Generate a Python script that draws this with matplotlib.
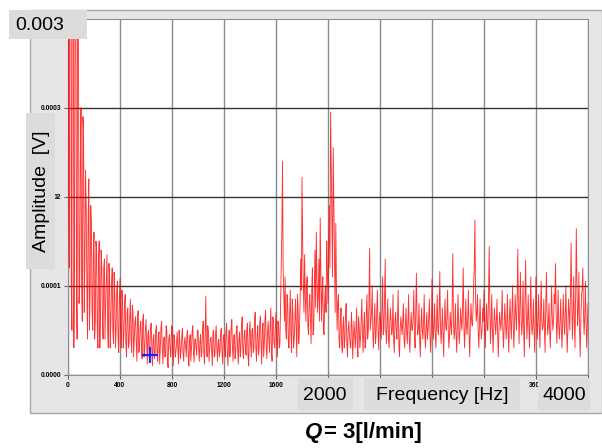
import numpy as np
import matplotlib
matplotlib.use("Agg")
import matplotlib.pyplot as plt
from matplotlib.patches import Rectangle

# ---- data (amplitude in units of 1e-4 V) ----
# samples at 0, 10, 20, ... 4000 Hz
amp_e4 = [
    9.5, 1.2, 8.0, 0.5, 6.0, 1.5, 4.8, 0.4, 4.2, 1.0, 3.0, 0.6, 2.7, 1.3, 1.9, 0.4, 2.2, 0.9, 1.7, 0.5,
    1.6, 0.6, 1.4, 0.3, 1.5, 0.7, 1.2, 0.4, 1.3, 0.8, 1.35, 0.3, 1.1, 0.6, 1.2, 0.35, 0.9, 0.5, 1.05, 0.25,
    1.08, 0.3, 0.8, 0.45, 0.9, 0.2, 0.75, 0.35, 0.85, 0.25, 0.7, 0.4, 0.65, 0.15, 0.72, 0.3, 0.6, 0.18, 0.68, 0.28,
    0.62, 0.12, 0.5, 0.3, 0.58, 0.1, 0.45, 0.25, 0.55, 0.15, 0.48, 0.3, 0.6, 0.12, 0.42, 0.22, 0.5, 0.08, 0.45, 0.2,
    0.55, 0.1, 0.4, 0.25, 0.48, 0.12, 0.38, 0.28, 0.52, 0.15, 0.42, 0.2, 0.5, 0.1, 0.45, 0.3, 0.55, 0.14, 0.4, 0.22,
    0.5, 0.15, 0.45, 0.25, 0.6, 0.12, 0.88, 0.2, 0.48, 0.3, 0.42, 0.1, 0.5, 0.22, 0.55, 0.15, 0.4, 0.28, 0.52, 0.12,
    0.45, 0.2, 0.58, 0.1, 0.5, 0.3, 0.62, 0.15, 0.45, 0.25, 0.55, 0.12, 0.48, 0.3, 0.65, 0.18, 0.5, 0.22, 0.58, 0.1,
    0.6, 0.2, 0.52, 0.3, 0.7, 0.15, 0.55, 0.28, 0.66, 0.12, 0.58, 0.35, 0.72, 0.18, 0.6, 0.25, 0.75, 0.15, 0.62, 0.3,
    0.7, 0.2, 0.55, 0.35, 1.2, 2.4, 0.9, 1.1, 0.4, 0.8, 0.3, 0.95, 0.25, 0.7, 0.4, 0.85, 0.2, 0.75, 0.5, 1.3,
    2.22, 1.0, 1.35, 0.6, 1.1, 0.45, 0.9, 0.35, 1.2, 0.5, 1.4, 1.6, 0.7, 1.3, 1.76, 0.6, 1.1, 0.45, 1.0, 1.5,
    0.8, 1.9, 2.95, 1.6, 2.55, 1.3, 1.7, 0.5, 0.9, 0.3, 0.75, 0.25, 0.65, 0.4, 0.8, 0.2, 0.6, 0.35, 0.7, 0.18,
    0.6, 0.3, 0.75, 0.2, 0.55, 0.4, 0.85, 0.25, 0.7, 0.35, 0.9, 0.5, 1.42, 0.6, 1.0, 0.3, 0.8, 0.45, 0.95, 0.28,
    0.7, 0.4, 1.1, 0.5, 1.3, 0.35, 0.85, 0.3, 0.75, 0.45, 0.9, 0.25, 0.7, 0.4, 0.95, 0.2, 0.65, 0.45, 0.8, 0.3,
    0.75, 0.35, 0.9, 0.25, 0.7, 0.5, 0.95, 0.3, 1.14, 0.45, 0.8, 0.2, 0.75, 0.4, 0.9, 0.3, 0.7, 0.5, 0.85, 0.25,
    1.07, 0.4, 0.8, 0.3, 0.9, 0.45, 1.16, 0.35, 0.75, 0.2, 0.85, 0.5, 0.95, 0.3, 0.7, 0.45, 1.36, 0.4, 0.8, 0.25,
    0.9, 0.35, 0.75, 0.5, 1.2, 0.3, 0.85, 0.45, 0.95, 0.2, 0.8, 0.55, 1.0, 1.74, 0.6, 0.9, 0.3, 0.85, 0.4, 0.75,
    0.95, 0.3, 0.8, 0.5, 1.44, 0.35, 0.9, 0.25, 0.75, 0.45, 0.85, 0.2, 0.7, 0.5, 0.95, 0.3, 0.8, 0.4, 0.9, 0.25,
    0.85, 0.4, 1.0, 0.3, 0.9, 0.5, 1.41, 0.35, 1.15, 0.45, 1.05, 0.2, 1.29, 0.4, 0.9, 0.3, 1.1, 0.45, 0.85, 0.25,
    1.1, 0.4, 0.9, 0.3, 1.05, 0.5, 0.85, 0.25, 1.15, 0.45, 0.8, 0.3, 1.0, 0.5, 0.9, 1.25, 0.35, 0.95, 0.4, 0.85,
    0.3, 0.9, 0.45, 1.0, 0.25, 0.85, 0.5, 1.48, 0.4, 1.1, 0.3, 1.64, 0.55, 1.15, 0.2, 0.9, 1.2, 0.45, 1.05, 0.3,
    0.8,
]
# samples at 5, 15, 25, ... 3995 Hz
amp_mid_e4 = [
    2.0, 7.0, 1.0, 9.0, 0.3, 5.0, 1.0, 5.5, 0.8, 2.4, 1.0, 2.9, 0.7, 2.3, 1.0, 1.8, 0.5, 1.9, 0.7, 1.4,
    0.4, 1.5, 0.5, 1.3, 0.3, 1.4, 0.6, 1.2, 0.4, 1.1, 0.5, 1.25, 0.3, 1.0, 0.5, 1.15, 0.3, 0.95, 0.4, 0.85,
    0.5, 0.95, 0.3, 0.8, 0.35, 0.7, 0.3, 0.65, 0.4, 0.78, 0.2, 0.6, 0.35, 0.66, 0.25, 0.55, 0.35, 0.62, 0.2, 0.5,
    0.35, 0.45, 0.2, 0.52, 0.3, 0.4, 0.18, 0.5, 0.25, 0.44, 0.12, 0.52, 0.3, 0.38, 0.2, 0.55, 0.15, 0.4, 0.3, 0.46,
    0.3, 0.45, 0.2, 0.35, 0.3, 0.5, 0.18, 0.42, 0.25, 0.36, 0.3, 0.46, 0.2, 0.38, 0.15, 0.48, 0.25, 0.4, 0.3, 0.5,
    0.3, 0.38, 0.2, 0.5, 0.25, 0.45, 0.3, 0.55, 0.15, 0.4, 0.28, 0.48, 0.2, 0.45, 0.3, 0.36, 0.2, 0.5, 0.25, 0.42,
    0.3, 0.48, 0.25, 0.4, 0.2, 0.52, 0.3, 0.44, 0.18, 0.5, 0.28, 0.4, 0.2, 0.55, 0.25, 0.45, 0.3, 0.5, 0.2, 0.46,
    0.35, 0.5, 0.25, 0.6, 0.3, 0.45, 0.22, 0.58, 0.35, 0.5, 0.2, 0.62, 0.3, 0.48, 0.4, 0.55, 0.25, 0.65, 0.35, 0.52,
    0.4, 0.6, 0.3, 0.8, 1.6, 1.2, 0.6, 0.5, 0.9, 0.35, 0.7, 0.45, 0.85, 0.3, 0.6, 0.5, 0.9, 0.35, 0.8, 0.95,
    1.5, 0.7, 0.9, 1.0, 0.55, 0.8, 0.6, 0.95, 0.45, 1.0, 0.75, 1.1, 0.9, 0.6, 1.2, 0.9, 0.5, 0.85, 0.7, 1.2,
    1.4, 1.2, 2.3, 1.1, 1.9, 0.7, 1.0, 0.8, 0.4, 0.6, 0.35, 0.55, 0.3, 0.7, 0.35, 0.5, 0.45, 0.3, 0.55, 0.4,
    0.45, 0.5, 0.35, 0.65, 0.3, 0.6, 0.45, 0.55, 0.3, 0.7, 0.4, 0.8, 0.5, 0.7, 0.45, 0.6, 0.35, 0.7, 0.5, 0.6,
    0.55, 0.75, 0.45, 0.85, 0.5, 0.6, 0.4, 0.55, 0.6, 0.5, 0.4, 0.6, 0.5, 0.7, 0.35, 0.5, 0.55, 0.6, 0.4, 0.55,
    0.5, 0.6, 0.4, 0.55, 0.5, 0.65, 0.45, 0.7, 0.6, 0.5, 0.4, 0.55, 0.5, 0.6, 0.45, 0.55, 0.4, 0.65, 0.45, 0.5,
    0.65, 0.55, 0.45, 0.6, 0.5, 0.7, 0.55, 0.5, 0.45, 0.6, 0.55, 0.65, 0.5, 0.45, 0.55, 0.8, 0.6, 0.5, 0.45, 0.6,
    0.55, 0.5, 0.6, 0.75, 0.6, 0.5, 0.55, 0.65, 0.45, 0.55, 0.6, 0.7, 1.2, 0.85, 0.7, 0.5, 0.6, 0.55, 0.5, 0.6,
    0.55, 0.6, 0.5, 0.9, 0.7, 0.6, 0.5, 0.55, 0.6, 0.6, 0.45, 0.5, 0.6, 0.65, 0.5, 0.55, 0.6, 0.55, 0.5, 0.6,
    0.6, 0.7, 0.55, 0.6, 0.65, 0.85, 0.7, 0.75, 0.65, 0.6, 0.5, 0.8, 0.75, 0.6, 0.55, 0.7, 0.6, 0.55, 0.5, 0.7,
    0.65, 0.6, 0.55, 0.7, 0.6, 0.55, 0.5, 0.75, 0.7, 0.55, 0.5, 0.6, 0.65, 0.6, 0.8, 0.7, 0.6, 0.55, 0.6, 0.5,
    0.6, 0.6, 0.65, 0.55, 0.5, 0.7, 0.9, 0.85, 0.65, 0.6, 0.9, 1.0, 0.7, 0.5, 0.6, 0.95, 0.7, 0.65, 0.6, 0.55,
]
freq_step = 10

x_ticks = [0, 400, 800, 1200, 1600, 2000, 2400, 2800, 3200, 3600, 4000]
x_tick_labels = ["0", "400", "800", "1200", "1600", "", "", "", "", "3600", ""]
y_ticks = [0.0, 0.0001, 0.0002, 0.0003]
y_tick_labels = ["0.0000", "0.0001", "02", "0.0003"]
cursor_f, cursor_v = 630, 0.000022

# interleave the two sample sets into one trace
f_main = np.arange(len(amp_e4)) * freq_step
f_mid = np.arange(len(amp_mid_e4)) * freq_step + freq_step / 2
freqs = np.concatenate([f_main, f_mid])
amps = np.concatenate([amp_e4, amp_mid_e4]) * 1e-4
order = np.argsort(freqs)
freqs, amps = freqs[order], amps[order]

W, H = 602, 448
fig = plt.figure(figsize=(W / 100, H / 100), dpi=100)
fig.patch.set_facecolor("white")


def fx(x):
    return x / W


def fy(y):
    return 1 - y / H


def box(x0, y0, x1, y1, color):
    fig.patches.append(Rectangle((fx(x0), fy(y1)), fx(x1) - fx(x0), fy(y0) - fy(y1),
                                 transform=fig.transFigure, facecolor=color,
                                 edgecolor="none", zorder=0))


# grey panel
fig.patches.append(Rectangle((fx(30), fy(413)), fx(602) - fx(30), fy(10) - fy(413),
                             transform=fig.transFigure, facecolor="#e7e5e8",
                             edgecolor="#a8a8a8", linewidth=1, zorder=-1))

ax = fig.add_axes([fx(68), fy(374.7), fx(588) - fx(68), fy(18.7) - fy(374.7)])
ax.set_facecolor("white")
ax.plot(freqs, amps, color="#ff0000", linewidth=0.65, alpha=0.8, zorder=3)
ax.plot([cursor_f], [cursor_v], marker="+", markersize=12, mew=1.6, color="#1f1fff", zorder=5)

ax.set_xlim(0, 4000)
ax.set_ylim(0, 0.0004)
ax.set_xticks(x_ticks)
ax.set_xticklabels(x_tick_labels, fontsize=4.8, fontweight="bold", family="Liberation Sans")
ax.set_yticks(y_ticks)
ax.set_yticklabels(y_tick_labels, fontsize=4.8, fontweight="bold", family="Liberation Sans")
ax.tick_params(length=3, width=0.8, color="#666666", pad=2)
ax.xaxis.grid(True, color="#8a8a8a", linewidth=1.0, zorder=1)
ax.yaxis.grid(True, color="#333333", linewidth=1.0, zorder=1)
ax.set_axisbelow(True)
for s in ax.spines.values():
    s.set_color("#909090")
    s.set_linewidth(0.8)

font = dict(family="Liberation Sans", fontsize=14, color="black")
# label boxes
box(9, 10, 87, 39, "#dcdcdc")
fig.text(fx(15), fy(25), "0.003", ha="left", va="center", **font)
box(26, 113, 55, 269, "#dcdcdc")
fig.text(fx(41), fy(191), "Amplitude  [V]", ha="center", va="center", rotation=90, **font)
box(298, 378, 353, 410, "#dcdcdc")
fig.text(fx(325), fy(395), "2000", ha="center", va="center", **font)
box(364, 378, 520, 410, "#dcdcdc")
fig.text(fx(442), fy(395), "Frequency [Hz]", ha="center", va="center", **font)
box(538, 378, 590, 410, "#dcdcdc")
fig.text(fx(564), fy(395), "4000", ha="center", va="center", **font)

fig.text(fx(305), fy(438), "Q", ha="left", va="baseline", family="Liberation Sans",
         fontsize=16, fontweight="bold", fontstyle="italic")
fig.text(fx(324), fy(438), "= 3[l/min]", ha="left", va="baseline", family="Liberation Sans",
         fontsize=16, fontweight="bold")

fig.savefig("out.png", dpi=100, facecolor="white")
